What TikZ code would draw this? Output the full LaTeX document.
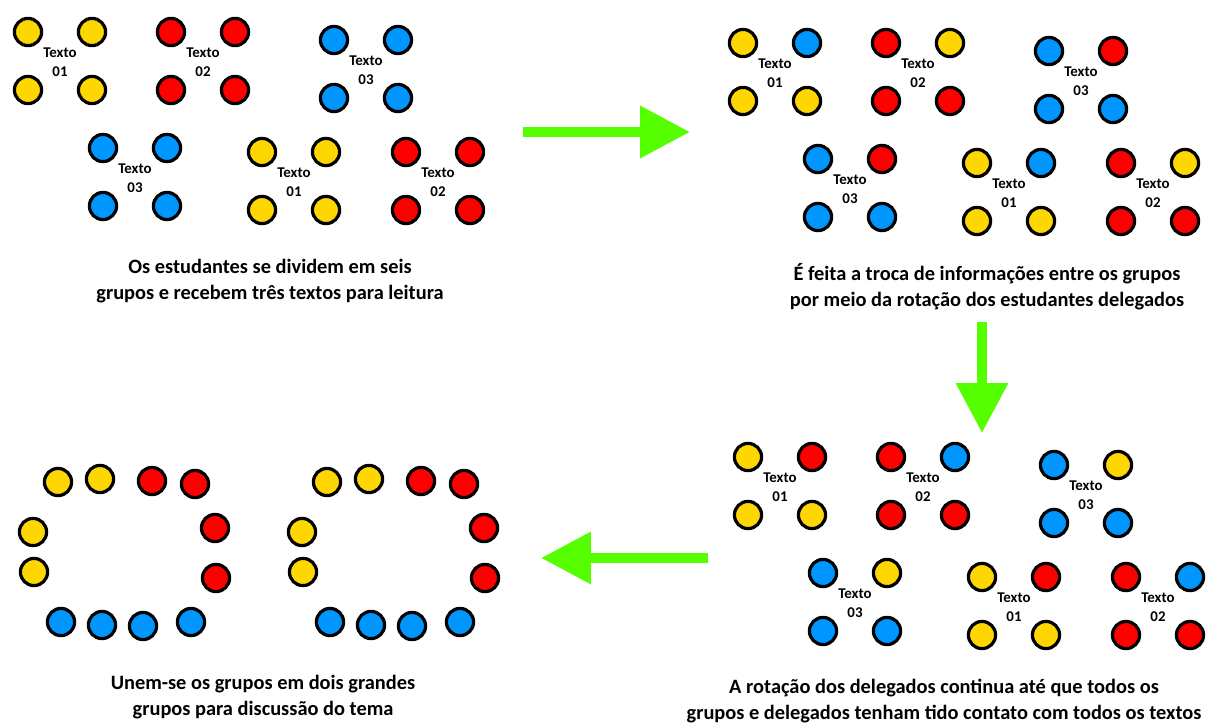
\documentclass[tikz,border=0pt]{standalone}
\usepackage{fontspec}
\setmainfont{Carlito}
\usetikzlibrary{arrows.meta}
\definecolor{amarelo}{RGB}{255,215,0}
\definecolor{vermelho}{RGB}{255,0,0}
\definecolor{azul}{RGB}{0,150,255}
\definecolor{verde}{RGB}{85,255,0}

\begin{document}
\begin{tikzpicture}[x=0.025cm, y=-0.025cm] % 1 unidade = 1 pixel
\tikzstyle{aluno} = [circle, draw=black, line width=2.3pt, minimum size=0.68cm, inner sep=0pt] % estudante
\tikzstyle{rotulo} = [align=center, inner sep=0pt, font=\bfseries\fontsize{10.6}{13.5}\selectfont] % texto do grupo
\tikzstyle{legenda} = [align=center, inner sep=0pt, font=\bfseries\fontsize{14.5}{18.5}\selectfont] % legenda da etapa
\tikzstyle{seta} = [draw=verde, line width=7.1pt, -{Triangle[length=35.4pt, width=35.4pt]}] % seta verde

\useasboundingbox (0,0) rectangle (1212,723);

% grupos de quatro estudantes: nome/x/y/cor/cor do delegado/texto
\foreach \g/\gx/\gy/\ca/\cb/\num in {
    a1/28/32/amarelo/amarelo/01, a2/171/32/vermelho/vermelho/02, a3/334/40/azul/azul/03,
    a4/103/148/azul/azul/03, a5/262/152/amarelo/amarelo/01, a6/406/152/vermelho/vermelho/02,
    b1/743/43/amarelo/azul/01, b2/886/43/vermelho/amarelo/02, b3/1049/51/azul/vermelho/03,
    b4/818/159/azul/vermelho/03, b5/977/163/amarelo/azul/01, b6/1121/163/vermelho/amarelo/02,
    c1/748/457/amarelo/vermelho/01, c2/891/457/vermelho/azul/02, c3/1054/465/azul/amarelo/03,
    c4/823/573/azul/amarelo/03, c5/982/577/amarelo/vermelho/01, c6/1126/577/vermelho/azul/02}
{
    \node[aluno, fill=\ca] (\g-tl) at (\gx,\gy) {};
    \node[aluno, fill=\cb] (\g-tr) at (\gx+64,\gy) {};
    \node[aluno, fill=\ca] (\g-bl) at (\gx,\gy+58) {};
    \node[aluno, fill=\ca] (\g-br) at (\gx+64,\gy+58) {};
    \node[rotulo] (\g-txt) at (\gx+32,\gy+30) {Texto\\\num};
}

% dois grandes grupos
\foreach \r/\dx in {d/0, e/269}
    \foreach \i/\cx/\cy/\c in {1/58/482/amarelo, 2/100/479/amarelo, 3/152/481/vermelho,
        4/195/484/vermelho, 5/215/528/vermelho, 6/216/578/vermelho, 7/191/622/azul,
        8/143/626/azul, 9/102/625/azul, 10/61/622/azul, 11/34/572/amarelo, 12/33/532/amarelo}
        \node[aluno, fill=\c] (\r\i) at (\cx+\dx,\cy) {};

% legendas
\node[legenda] (leg1) at (270,281) {Os estudantes se dividem em seis\\grupos e recebem três textos para leitura};
\node[legenda] (leg2) at (987,287) {É feita a troca de informações entre os grupos\\por meio da rotação dos estudantes delegados};
\node[legenda] (leg3) at (944,701) {A rotação dos delegados continua até que todos os\\grupos e delegados tenham tido contato com todos os textos};
\node[legenda] (leg4) at (263,697) {Unem-se os grupos em dois grandes\\grupos para discussão do tema};

% setas entre as etapas
\coordinate (s1a) at (523,132); \coordinate (s1b) at (690,132);
\coordinate (s2a) at (982,322); \coordinate (s2b) at (982,433);
\coordinate (s3a) at (708,558); \coordinate (s3b) at (541,558);
\draw[seta] (s1a) -- (s1b);
\draw[seta] (s2a) -- (s2b);
\draw[seta] (s3a) -- (s3b);
\end{tikzpicture}
\end{document}
